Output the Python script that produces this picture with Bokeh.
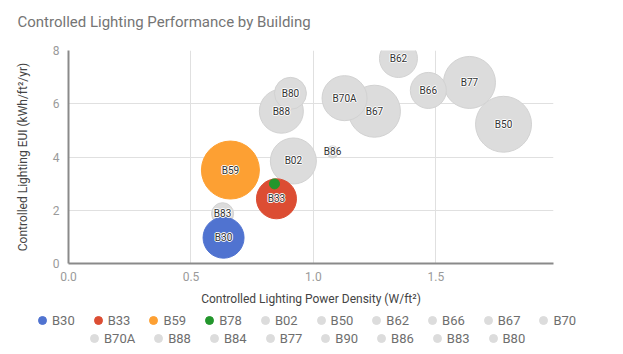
from bokeh.plotting import figure
from bokeh.models import Legend, LegendItem, ColumnDataSource, Range1d, FixedTicker, NumeralTickFormatter, Title
from bokeh.core.properties import value
from bokeh.embed import file_html
from bokeh.resources import INLINE

# ---- data ----
buildings = ["B30", "B33", "B59", "B78", "B02", "B50", "B62", "B66", "B67", "B70",
             "B70A", "B88", "B84", "B77", "B90", "B86", "B83", "B80"]
# Controlled lighting power density (W/ft2); None = not plotted
lpd = [0.633, 0.849, 0.661, 0.841, 0.918, 1.776, 1.347, 1.469, 1.249, None,
       1.127, 0.869, None, 1.637, None, 1.078, 0.629, 0.906]
# Controlled lighting EUI (kWh/ft2/yr)
eui = [0.97, 2.43, 3.51, 2.99, 3.85, 5.23, 7.70, 6.50, 5.72, None,
       6.21, 5.72, None, 6.80, None, 4.19, 1.87, 6.39]
# relative bubble size
bubble = [20.5, 20, 29, 5, 23, 28, 19, 18, 26, None,
          22.5, 22, None, 26, None, 6, 11, 16]
# bubble labels shown inside the bubbles
shown_labels = ["B30", "B33", "B59", "B02", "B50", "B62", "B66", "B67",
                "B70A", "B88", "B77", "B86", "B83", "B80"]
highlight = {"B30": "#5073d0", "B33": "#dc4d33", "B59": "#fda033", "B78": "#23962c"}
gray = "#dcdcdc"

x_ticks = [0, 0.5, 1.0, 1.5]
y_ticks = [0, 2, 4, 6, 8]

FONT = "Roboto"
nan = float("nan")

p = figure(width=623, height=308, output_backend="svg", toolbar_location=None, title=None,
           x_range=Range1d(0, 1.98), y_range=Range1d(0, 8),
           min_border_left=68, min_border_right=70, min_border_top=50, min_border_bottom=44)
p.background_fill_color = "white"
p.border_fill_color = "white"
p.outline_line_color = None

# spacer panel between the frame and the title, then the title itself
p.add_layout(Title(text=" ", text_font_size="2px", standoff=12), "above")
p.add_layout(Title(text="Controlled Lighting Performance by Building", text_font=FONT,
                   text_font_size="15px", text_font_style="normal", text_color="#757575",
                   align="left", offset=-51, standoff=8), "above")

# axes
p.xaxis.ticker = FixedTicker(ticks=x_ticks)
p.yaxis.ticker = FixedTicker(ticks=y_ticks)
p.xaxis.formatter = NumeralTickFormatter(format="0.0")
p.yaxis.formatter = NumeralTickFormatter(format="0")
for ax in (p.xaxis, p.yaxis):
    ax.major_tick_line_color = None
    ax.minor_tick_line_color = None
    ax.axis_line_color = "#8a8a8a"
    ax.axis_line_width = 2
    ax.major_label_text_font = FONT
    ax.major_label_text_font_size = "12px"
    ax.major_label_text_color = "#9a9a9a"
    ax.axis_label_text_font = FONT
    ax.axis_label_text_font_size = "12px"
    ax.axis_label_text_font_style = "normal"
    ax.axis_label_text_color = "#444444"
p.xaxis.axis_label = "Controlled Lighting Power Density (W/ft²)"
p.yaxis.axis_label = "Controlled Lighting EUI (kWh/ft²/yr)"
p.xaxis.major_label_standoff = 2
p.xaxis.axis_label_standoff = 8
p.yaxis.major_label_standoff = 3
p.yaxis.axis_label_standoff = 20

p.grid.grid_line_color = "#e0e0e0"
p.grid.grid_line_width = 1
p.xgrid.ticker = FixedTicker(ticks=x_ticks)
p.ygrid.ticker = FixedTicker(ticks=y_ticks)

# draw order: gray bubbles (largest first), then highlighted ones
order_gray = sorted([i for i, b in enumerate(buildings) if b not in highlight and bubble[i] is not None],
                    key=lambda i: -bubble[i])
order_hl = [buildings.index(b) for b in ["B59", "B30", "B33", "B78"]]

for i in order_gray + order_hl:
    b = buildings[i]
    col = highlight.get(b, gray)
    src = ColumnDataSource(dict(x=[lpd[i]], y=[eui[i]], s=[2 * bubble[i]]))
    p.scatter("x", "y", size="s", source=src, fill_color=col,
              line_color=("#d2d2d2" if col == gray else col), line_width=1)

# bubble labels with white halo
idx = [buildings.index(b) for b in shown_labels]
lab_src = ColumnDataSource(dict(x=[lpd[i] for i in idx], y=[eui[i] for i in idx],
                                name=[buildings[i] for i in idx]))
for dx, dy in [(-1, 0), (1, 0), (0, -1), (0, 1)]:
    p.text("x", "y", text="name", source=lab_src, text_font=value(FONT), text_font_size="10px",
           text_color="white", text_align="center", text_baseline="middle",
           x_offset=dx, y_offset=dy)
p.text("x", "y", text="name", source=lab_src, text_font=value(FONT), text_font_size="10px",
       text_color="#333333", text_align="center", text_baseline="middle")

# ---- legend strip below the chart (separate root, so its frame spans the full width) ----
lg = figure(width=623, height=46, output_backend="svg", toolbar_location=None,
            x_range=Range1d(0, 1), y_range=Range1d(0, 1),
            x_axis_location=None, y_axis_location=None,
            min_border_left=0, min_border_right=0, min_border_top=0, min_border_bottom=0)
lg.grid.visible = False
lg.outline_line_color = None
lg.background_fill_color = "white"
lg.border_fill_color = "white"

leg_r = {}
for b in buildings:
    col = highlight.get(b, gray)
    leg_r[b] = lg.scatter(x=[nan], y=[nan], size=10, fill_color=col, line_color=col)

rows = [buildings[:10], buildings[10:]]
locs = [(32, 24), (84, 6)]
for row, loc in zip(rows, locs):
    leg = Legend(items=[LegendItem(label=b, renderers=[leg_r[b]]) for b in row],
                 orientation="horizontal", location=loc,
                 glyph_width=20, glyph_height=20, label_height=18, label_width=10,
                 label_standoff=0, spacing=13, padding=0, margin=0,
                 border_line_color=None, background_fill_alpha=0,
                 label_text_font=FONT, label_text_font_size="13px", label_text_color="#6e6e6e")
    lg.add_layout(leg, "center")

open("out.html", "w").write(file_html([p, lg], INLINE))
